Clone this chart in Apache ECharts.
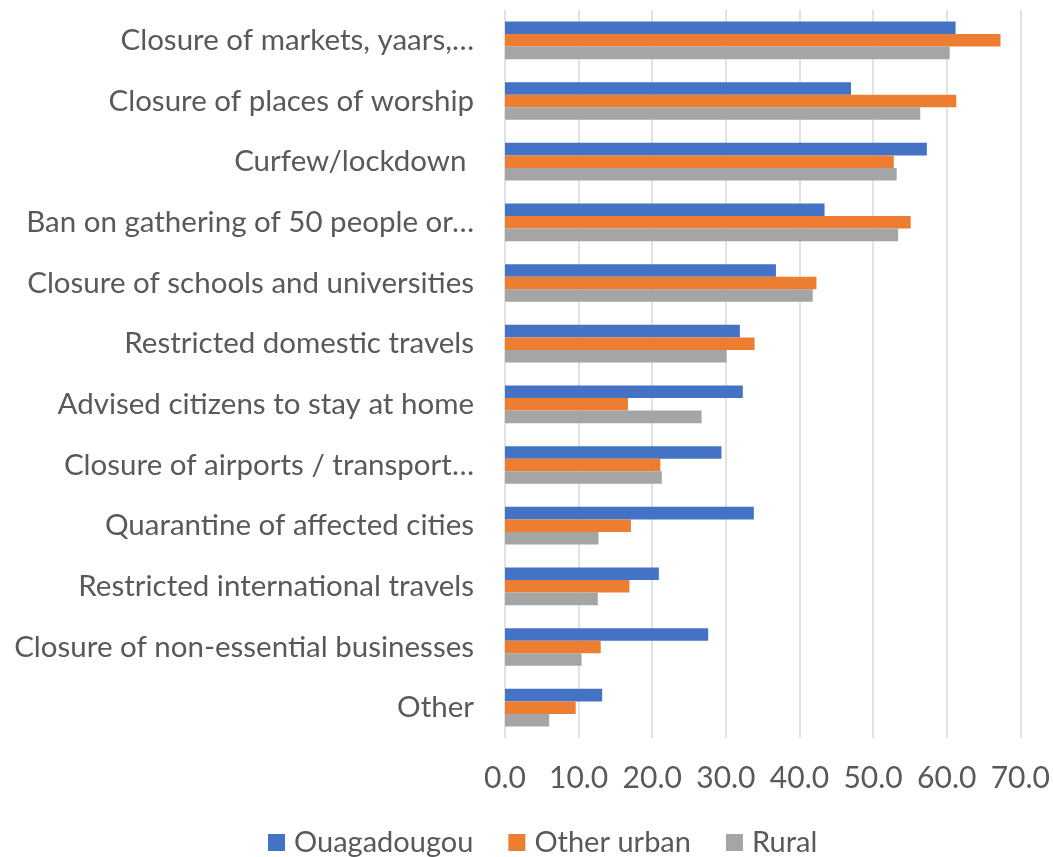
<!DOCTYPE html>
<html>
<head>
<meta charset="utf-8">
<script src="https://cdn.jsdelivr.net/npm/echarts@6/dist/echarts.min.js"></script>
<style>
html, body { margin: 0; padding: 0; background: #fff; }
#chart { width: 1053px; height: 857px; }
</style>
</head>
<body>
<div id="chart"></div>
<script>
var categories = ['Closure of markets, yaars,…', 'Closure of places of worship', 'Curfew/lockdown ',
    'Ban on gathering of 50 people or…', 'Closure of schools and universities', 'Restricted domestic travels',
    'Advised citizens to stay at home', 'Closure of airports / transport…', 'Quarantine of affected cities',
    'Restricted international travels', 'Closure of non-essential businesses', 'Other'];
var seriesNames = ['Ouagadougou', 'Other urban', 'Rural'];
var ouagadougou = [61.2, 47.0, 57.3, 43.4, 36.8, 31.9, 32.3, 29.4, 33.8, 20.9, 27.6, 13.2];
var otherUrban = [67.3, 61.3, 52.8, 55.1, 42.3, 33.9, 16.7, 21.1, 17.1, 16.9, 13.0, 9.6];
var rural = [60.4, 56.4, 53.2, 53.4, 41.8, 30.1, 26.7, 21.3, 12.7, 12.6, 10.4, 6.0];
var colorList = ['#4472C4', '#ED7D31', '#A5A5A5'];

var txt = '#595959';
var font = 'Lato';
var chart = echarts.init(document.getElementById('chart'));

var allData = [ouagadougou, otherUrban, rural];
var series = [];
for (var i = 0; i < seriesNames.length; i++) {
    series.push({
        name: seriesNames[i],
        type: 'bar',
        data: allData[i],
        barGap: '0%',
        barCategoryGap: '38%',
        itemStyle: { color: colorList[i] }
    });
}

chart.setOption({
    animation: false,
    color: colorList,
    textStyle: { fontFamily: font },
    grid: { left: 505, right: 32, top: 10, bottom: 119 },
    legend: {
        bottom: -5,
        left: 263,
        itemWidth: 17,
        itemHeight: 17,
        itemGap: 35,
        icon: 'rect',
        textStyle: { color: txt, fontSize: 29, fontFamily: font, padding: [0, 0, 0, 4] },
        data: seriesNames
    },
    xAxis: {
        type: 'value',
        min: 0,
        max: 70,
        interval: 10,
        axisLine: { show: false },
        axisTick: { show: false },
        splitLine: { lineStyle: { color: '#D9D9D9', width: 1.5 } },
        axisLabel: {
            color: txt, fontSize: 30, margin: 25,
            formatter: function (v) { return v.toFixed(1); }
        }
    },
    yAxis: {
        type: 'category',
        inverse: true,
        data: categories,
        axisLine: { show: false },
        axisTick: { show: false },
        axisLabel: { color: txt, fontSize: 29.5, margin: 31 }
    },
    series: series
});
</script>
</body>
</html>
